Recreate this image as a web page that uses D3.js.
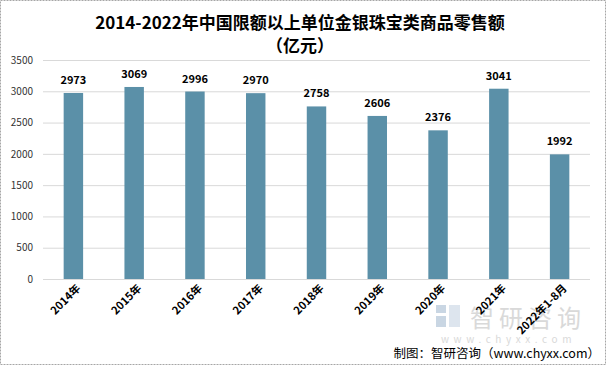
<!DOCTYPE html>
<html><head><meta charset="utf-8">
<script src="https://cdn.jsdelivr.net/npm/d3@7/dist/d3.min.js"></script>
<style>body{margin:0;background:#fff}svg{display:block}</style>
</head><body><svg id="c" width="606" height="365"></svg>
<script>
const categories = ["2014年","2015年","2016年","2017年","2018年","2019年","2020年","2021年","2022年1-8月"];
const values = [2973,3069,2996,2970,2758,2606,2376,3041,1992];
const yTicks = [0,500,1000,1500,2000,2500,3000,3500];
const titleLines = ["2014-2022年中国限额以上单位金银珠宝类商品零售额","（亿元）"];
const source = "制图：智研咨询（www.chyxx.com）";

const svg = d3.select("#c");
const W = 606, H = 365;
const m = {l:43, r:16, t:60, b:86};
const font = "'Microsoft YaHei','Noto Sans CJK SC','Liberation Sans',sans-serif";

svg.append("rect").attr("x",0.5).attr("y",0.5).attr("width",W-1).attr("height",H-1)
  .attr("fill","#fff").attr("stroke","#a6a6a6").attr("stroke-dasharray","2,1");

// watermark
const wm = svg.append("g");
wm.append("rect").attr("x",436).attr("y",305).attr("width",10).attr("height",8).attr("fill","#c9d6e3");
wm.append("rect").attr("x",436).attr("y",316).attr("width",10).attr("height",11).attr("fill","#c9d6e3");
wm.append("rect").attr("x",449).attr("y",305).attr("width",11).attr("height",22).attr("fill","#dde5ee");
wm.append("text").attr("x",470).attr("y",327).attr("font-family",font).attr("font-size",24)
  .attr("letter-spacing","5px").attr("fill","#d9d9d9").text("智研咨询");
wm.append("text").attr("x",441).attr("y",343).attr("font-family",font).attr("font-size",10)
  .attr("fill","#d9d9d9").attr("letter-spacing","4.6px").text("www.chyxx.com");

const x = d3.scaleBand().domain(categories).range([m.l, W-m.r]).paddingInner(0.68).paddingOuter(0.34);
const y = d3.scaleLinear().domain([0,3500]).range([H-m.b, m.t]);

// grid
svg.append("g").selectAll("line").data(yTicks).join("line")
  .attr("x1",m.l).attr("x2",W-m.r).attr("y1",d=>y(d)+0.5).attr("y2",d=>y(d)+0.5)
  .attr("stroke","#d9d9d9").attr("stroke-width",1);

// y axis labels
const ya = svg.append("g").attr("transform",`translate(${m.l-10},0)`)
  .call(d3.axisLeft(y).tickValues(yTicks).tickFormat(d3.format("d")).tickSize(0).tickPadding(0));
ya.select(".domain").remove();
ya.selectAll("text").attr("font-family",font).attr("font-size",10).attr("fill","#333");

// bars
svg.append("g").selectAll("rect").data(values).join("rect")
  .attr("x",(d,i)=>x(categories[i])).attr("width",x.bandwidth())
  .attr("y",d=>y(d)).attr("height",d=>y(0)-y(d)).attr("fill","#5b90a8");

// value labels
svg.append("g").selectAll("text").data(values).join("text")
  .attr("x",(d,i)=>x(categories[i])+x.bandwidth()/2).attr("y",d=>y(d)-9)
  .attr("text-anchor","middle").attr("font-family",font).attr("font-size",11)
  .attr("font-weight","bold").attr("fill","#000").text(d=>d);

// x labels
const xa = svg.append("g").attr("transform",`translate(0,${y(0)})`)
  .call(d3.axisBottom(x).tickSize(0).tickPadding(0));
xa.select(".domain").remove();
xa.selectAll("text").attr("font-family",font).attr("font-size",11).attr("font-weight","bold")
  .attr("fill","#000").attr("text-anchor","end").attr("dy",0)
  .attr("transform","translate(8,10) rotate(-45)");

// title
svg.append("g").selectAll("text").data(titleLines).join("text")
  .attr("x",300).attr("y",(d,i)=>29+i*23).attr("text-anchor","middle")
  .attr("font-family",font).attr("font-size",17).attr("font-weight","bold").attr("fill","#000")
  .text(d=>d);

svg.append("text").attr("x",600).attr("y",358).attr("text-anchor","end")
  .attr("font-family",font).attr("font-size",12.5).attr("fill","#000").text(source);
</script></body></html>
